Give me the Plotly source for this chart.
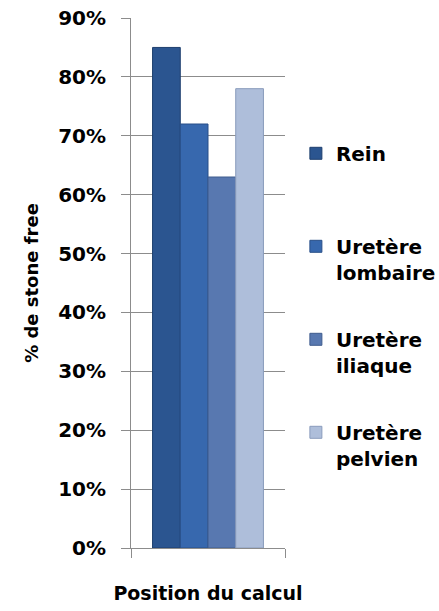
import plotly.graph_objects as go

categories = ["Position du calcul"]
series_names = ["Rein<br> ", "Uretère<br>lombaire", "Uretère<br>iliaque", "Uretère<br>pelvien"]
values = [0.85, 0.72, 0.63, 0.78]
tick_values = [0, 0.1, 0.2, 0.3, 0.4, 0.5, 0.6, 0.7, 0.8, 0.9]
colors = ["#2B5590", "#3768AE", "#5878B0", "#AEBEDA"]
line_colors = ["#1E3F6E", "#284F88", "#3F5C8E", "#8A9CBC"]

FONT = "'DejaVu Sans', sans-serif"

fig = go.Figure()
for i, (name, v) in enumerate(zip(series_names, values)):
    fig.add_trace(go.Bar(
        x=categories, y=[v], name=name,
        legendgroup=f"g{i}",
        marker=dict(color=colors[i], line=dict(color=line_colors[i], width=1)),
    ))

fig.update_layout(
    width=439, height=611,
    margin=dict(l=131, r=154, t=18, b=63, autoexpand=False),
    paper_bgcolor="white", plot_bgcolor="white",
    barmode="group", bargap=0.28, bargroupgap=0,
    font=dict(family=FONT, size=19, color="black"),
    showlegend=True,
    legend=dict(
        xref="container", yref="container",
        x=0.674, xanchor="left", y=0.781, yanchor="top",
        maxheight=500,
        font=dict(family=FONT, size=20, color="black", weight="bold"),
        tracegroupgap=38, valign="top",
        bgcolor="rgba(0,0,0,0)",
    ),
)
fig.update_yaxes(
    range=[0, 0.9], tickvals=tick_values, tickformat=".0%", automargin=False,
    showgrid=True, gridcolor="#8C8C8C", gridwidth=1,
    showline=True, linecolor="#8C8C8C", linewidth=1,
    ticks="outside", ticklen=9, tickcolor="#8C8C8C",
    ticklabelstandoff=11,
    tickfont=dict(family=FONT, size=20, color="black", weight="bold"),
    title=dict(text="% de stone free", standoff=14,
               font=dict(family=FONT, size=18, color="black", weight="bold")),
    zeroline=False,
)
fig.update_xaxes(
    automargin=False,
    showline=True, linecolor="#8C8C8C", linewidth=1,
    ticks="outside", ticklen=9, tickcolor="#8C8C8C", tickson="boundaries",
    showticklabels=False,
    title=dict(text="Position du calcul", standoff=38,
               font=dict(family=FONT, size=19, color="black", weight="bold")),
)

fig.write_html(
    "out.html",
    config={"displayModeBar": False},
    post_script="document.body.style.margin='0';document.body.style.overflow='hidden';",
)
